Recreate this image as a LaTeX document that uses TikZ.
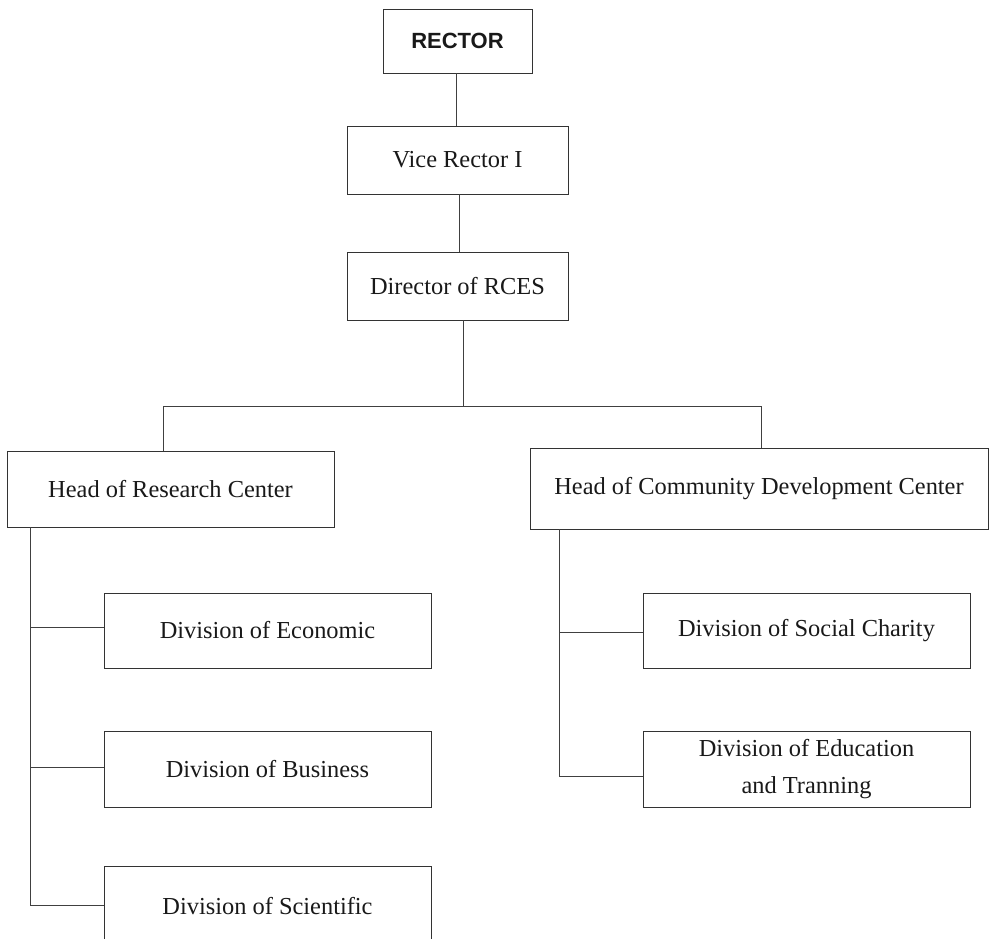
\documentclass[tikz,border=0pt]{standalone}
\usepackage{fontspec}
\setmainfont{Liberation Serif}
\newfontfamily\rectorfont{Liberation Sans}
\begin{document}
\begin{tikzpicture}[x=1pt,y=-1pt,
  box/.style={draw=black!80,line width=0.9pt,rectangle,inner sep=0pt,align=center,
    font=\fontsize{24.4}{36.5}\selectfont,text=black!90},
  link/.style={draw=black!75,line width=0.9pt}]
\useasboundingbox (0,0) rectangle (990,939);
\node[box,minimum width=149pt,minimum height=64pt,font=\rectorfont\bfseries\fontsize{22}{26}\selectfont] (rector) at (457.5,41) {RECTOR};
\node[box,minimum width=221pt,minimum height=68pt] (vice) at (457.5,160) {Vice Rector I};
\node[box,minimum width=221pt,minimum height=68pt] (dir) at (457.5,286) {Director of RCES};
\node[box,minimum width=327pt,minimum height=76pt] (hrc) at (170.5,489) {Head of Research Center};
\node[box,minimum width=458pt,minimum height=81pt] (hcd) at (759,488.5) {Head of Community Development Center};
\node[box,minimum width=327pt,minimum height=75pt] (eco) at (267.5,630.5) {Division of Economic};
\node[box,minimum width=327pt,minimum height=76pt] (bus) at (267.5,769) {Division of Business};
\node[box,minimum width=327pt,minimum height=80pt] (sci) at (267.5,906) {Division of Scientific};
\node[box,minimum width=327pt,minimum height=75pt] (soc) at (806.5,630.5) {Division of Social Charity};
\node[box,minimum width=327pt,minimum height=76pt] (edu) at (806.5,769) {Division of Education\\and Tranning};
% top chain
\coordinate (ca) at (456,0);
\coordinate (cb) at (459,0);
\draw[link] (ca |- rector.south) -- (ca |- vice.north);
\draw[link] (cb |- vice.south) -- (cb |- dir.north);
% bus
\coordinate (j) at (463,406);
\coordinate (bl) at (163,406);
\coordinate (br) at (761,406);
\draw[link] (j |- dir.south) -- (j);
\draw[link] (bl |- hrc.north) -- (bl) -- (br) -- (br |- hcd.north);
% left tree
\coordinate (lt) at (30,0);
\draw[link] (lt |- hrc.south) -- (30,905) -- (sci.west |- 0,905);
\draw[link] (30,627) -- (eco.west |- 0,627);
\draw[link] (30,767) -- (bus.west |- 0,767);
% right tree
\coordinate (rt) at (559,0);
\draw[link] (rt |- hcd.south) -- (559,776) -- (edu.west |- 0,776);
\draw[link] (559,632) -- (soc.west |- 0,632);
\end{tikzpicture}
\end{document}
